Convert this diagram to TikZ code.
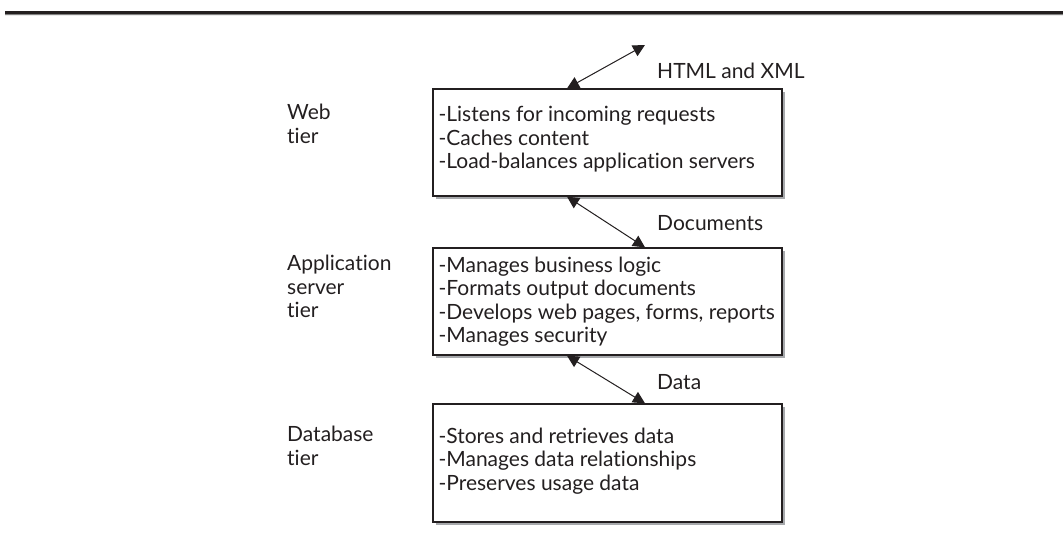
\documentclass[tikz,border=0pt]{standalone}
\usepackage{fontspec}
\setmainfont{Lato}[Ligatures={NoCommon,NoRare}]
\usetikzlibrary{arrows.meta,shadows}
\definecolor{ink}{HTML}{231F20}
\definecolor{shade}{HTML}{A7A9AC}
\newcommand{\tiertext}{\fontsize{21}{23.5}\selectfont}
\tikzset{
  tierbox/.style={draw=ink, line width=1.3pt, fill=white, rectangle,
    minimum width=349pt, inner sep=0pt,
    drop shadow={shadow xshift=3pt, shadow yshift=-3pt, fill=shade, opacity=1}},
  boxtext/.style={anchor=west, align=left, inner sep=0pt,
    font=\tiertext, text=ink},
  tiername/.style={anchor=north west, align=left, inner sep=0pt,
    font=\tiertext, text=ink},
  flowlabel/.style={anchor=west, inner sep=0pt,
    font=\tiertext, text=ink},
  link/.style={draw=ink, line width=1pt,
    {Triangle[length=12pt,width=12pt]}-{Triangle[length=12pt,width=12pt]}}
}
\begin{document}
\begin{tikzpicture}[x=1pt,y=-1pt]
  \useasboundingbox (0,0) rectangle (1063,548);
  % heading rule
  \fill[shade] (5,14) rectangle (1063,15.2);
  \fill[ink] (5,11) rectangle (1063,14);

  % tier boxes
  \node[tierbox, minimum height=107pt] (web) at (607.5,142.5) {};
  \node[tierbox, minimum height=107pt] (app) at (607.5,301.5) {};
  \node[tierbox, minimum height=118pt] (db) at (607.5,463) {};

  % duties of each tier
  \node[boxtext] (webtxt) at ([xshift=6pt,yshift=3pt]web.west)
    {-Listens for incoming requests\\-Caches content\\-Load-balances application servers};
  \node[boxtext] (apptxt) at ([xshift=6pt]app.west)
    {-Manages business logic\\-Formats output documents\\-Develops web pages, forms, reports\\-Manages security};
  \node[boxtext] (dbtxt) at ([xshift=6pt,yshift=2pt]db.west)
    {-Stores and retrieves data\\-Manages data relationships\\-Preserves usage data};

  % tier names
  \node[tiername] (webname) at (287,104) {Web\\tier};
  \node[tiername] (appname) at (287,255) {Application\\server\\tier};
  \node[tiername] (dbname) at (287,426) {Database\\tier};

  % links between tiers
  \coordinate (client) at (645,45);
  \draw[link] ([xshift=-40.5pt]web.north) -- (client);
  \draw[link] ([xshift=-40.5pt]web.south) -- ([xshift=37.5pt]app.north);
  \draw[link] ([xshift=-40.5pt]app.south) -- ([xshift=37.5pt]db.north);

  \node[flowlabel] (htmllbl) at (657,71) {HTML and XML};
  \node[flowlabel] (doclbl) at (657,223) {Documents};
  \node[flowlabel] (datalbl) at (657,382) {Data};
\end{tikzpicture}
\end{document}
